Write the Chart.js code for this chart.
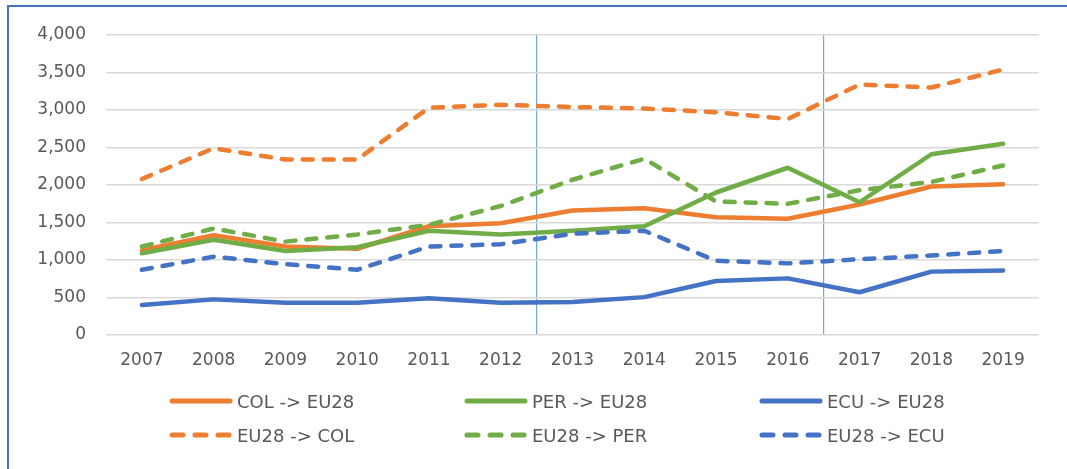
<!DOCTYPE html>
<html>
<head>
<meta charset="utf-8">
<script src="https://cdn.jsdelivr.net/npm/chart.js@4/dist/chart.umd.min.js"></script>
<style>
  html, body { margin: 0; padding: 0; background: #ffffff; }
  body { width: 1067px; height: 469px; position: relative; overflow: hidden; }
  #frame { position: absolute; left: 7px; top: 5px; width: 1200px; height: 600px;
           border-left: 2px solid #4472C4; border-top: 2px solid #4472C4; }
  #wrap { position: absolute; left: 0; top: 0; width: 1067px; height: 380px; }
  #legend { position: absolute; left: 0; top: 0; width: 1067px; height: 469px; pointer-events: none; }
  .item { position: absolute; display: flex; align-items: center; height: 24px; margin-top: -13px;
          font-family: "DejaVu Sans", sans-serif; font-size: 18px; color: #595959; white-space: nowrap; }
  .item svg { display: block; margin-right: 4px; }
</style>
</head>
<body>
<div id="frame"></div>
<div id="wrap"><canvas id="c"></canvas></div>
<div id="legend"></div>
<script>
// ---- data ----
const years = ['2007','2008','2009','2010','2011','2012','2013','2014','2015','2016','2017','2018','2019'];
const colToEu  = [1130, 1330, 1180, 1150, 1450, 1490, 1660, 1690, 1570, 1550, 1740, 1980, 2010];
const perToEu  = [1090, 1270, 1120, 1170, 1390, 1340, 1390, 1450, 1900, 2230, 1770, 2410, 2550];
const ecuToEu  = [ 400,  475,  430,  430,  490,  430,  440,  505,  720,  755,  570,  845,  860];
const euToCol  = [2080, 2490, 2340, 2340, 3030, 3070, 3040, 3020, 2970, 2880, 3340, 3300, 3540];
const euToPer  = [1180, 1420, 1245, 1340, 1470, 1720, 2070, 2350, 1780, 1750, 1930, 2040, 2260];
const euToEcu  = [ 870, 1045,  945,  870, 1180, 1210, 1350, 1390,  990,  955, 1010, 1060, 1120];
const seriesNames = ['COL -> EU28', 'PER -> EU28', 'ECU -> EU28', 'EU28 -> COL', 'EU28 -> PER', 'EU28 -> ECU'];
const yTicks = [0, 500, 1000, 1500, 2000, 2500, 3000, 3500, 4000];
const separatorBefore = ['2013', '2017'];   // vertical markers between periods

// ---- styles ----
const ORANGE = '#ED7D31', GREEN = '#70AD47', BLUE = '#4472C4';
const seriesValues = [colToEu, perToEu, ecuToEu, euToCol, euToPer, euToEcu];
const seriesColors = [ORANGE, GREEN, BLUE, ORANGE, GREEN, BLUE];
const seriesDashed = [false, false, false, true, true, true];

const datasets = seriesValues.map((vals, i) => ({
  label: seriesNames[i],
  data: vals,
  borderColor: seriesColors[i],
  backgroundColor: seriesColors[i],
  borderWidth: 4.5,
  borderDash: seriesDashed[i] ? [10, 11] : [],
  borderCapStyle: 'round',
  borderJoinStyle: 'round',
  pointRadius: 0,
  pointHoverRadius: 0,
  tension: 0,
  fill: false,
  order: seriesValues.length - i
}));

const sepIdx = separatorBefore.map(y => years.indexOf(y));

const chart = new Chart(document.getElementById('c'), {
  type: 'line',
  data: { labels: years, datasets },
  options: {
    responsive: true,
    maintainAspectRatio: false,
    animation: false,
    layout: { padding: { left: 6, right: 28, top: 35, bottom: 0 } },
    plugins: { legend: { display: false }, tooltip: { enabled: false } },
    scales: {
      x: {
        offset: true,
        grid: {
          offset: true,
          drawTicks: false,
          lineWidth: 1.2,
          color: ctx => sepIdx.includes(ctx.index) ? '#6FA8DC' : 'rgba(0,0,0,0)'
        },
        border: { display: false },
        ticks: { color: '#595959', font: { family: 'DejaVu Sans', size: 17 }, padding: 15, maxRotation: 0, autoSkip: false },
        afterFit: s => { s.height = 45; }
      },
      y: {
        min: 0, max: 4000,
        afterBuildTicks: s => { s.ticks = yTicks.map(v => ({ value: v })); },
        grid: { drawTicks: false, color: '#D9D9D9', lineWidth: 1.6 },
        border: { display: false },
        ticks: {
          color: '#595959', font: { family: 'DejaVu Sans', size: 17 }, padding: 20,
          callback: v => Number(v).toLocaleString('en-US')
        },
        afterFit: s => { s.width = 100; }
      }
    }
  }
});

// ---- legend (HTML, generated from the datasets) ----
const colX = [169, 464, 759];
const rowY = [402, 436];
const legend = document.getElementById('legend');
chart.data.datasets.forEach((ds, i) => {
  const item = document.createElement('div');
  item.className = 'item';
  item.style.left = colX[i % 3] + 'px';
  item.style.top = rowY[Math.floor(i / 3)] + 'px';
  const dash = ds.borderDash.length ? 'stroke-dasharray="11 12"' : '';
  item.innerHTML =
    '<svg width="64" height="10"><line x1="3" y1="5" x2="61" y2="5" stroke="' + ds.borderColor +
    '" stroke-width="5" stroke-linecap="round" ' + dash + '/></svg>';
  const span = document.createElement('span');
  span.textContent = ds.label;
  item.appendChild(span);
  legend.appendChild(item);
});
</script>
</body>
</html>
